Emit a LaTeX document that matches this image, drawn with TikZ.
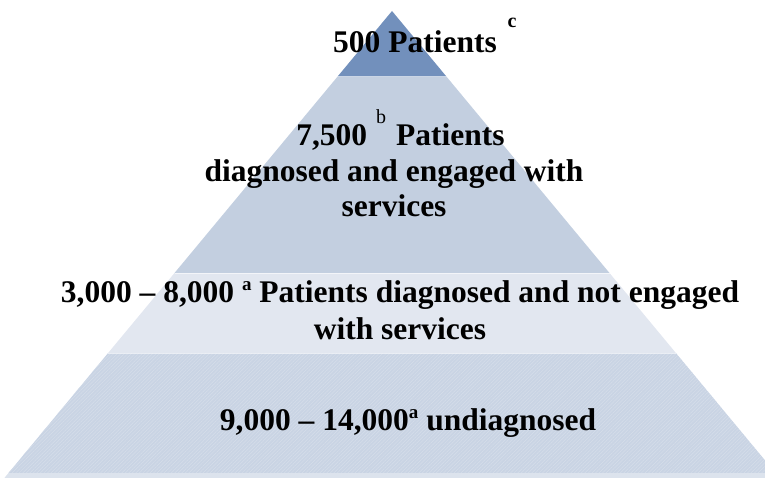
\documentclass[tikz,border=0pt]{standalone}
\usepackage{fontspec}
\setmainfont{Liberation Serif}[BoldFont={Liberation Serif Bold},ItalicFont={Liberation Serif Italic}]
\usetikzlibrary{patterns.meta}
\definecolor{topc}{HTML}{7290BC}
\definecolor{bandtwo}{HTML}{C3CFE0}
\definecolor{bandthree}{HTML}{E2E7F0}
\definecolor{bandfour}{HTML}{C9D4E4}
\definecolor{hatchc}{HTML}{D6DEEA}
\definecolor{stripc}{HTML}{DCE3ED}
\newcommand{\supa}[1]{\raisebox{12pt}{\fontsize{19}{19}\selectfont\bfseries #1}}
\tikzset{
  lbl/.style={font=\fontsize{31.5}{36}\selectfont\bfseries, inner sep=0, anchor=base},
  sepline/.style={draw=white, draw opacity=0.6, line width=1pt}
}
\begin{document}
\begin{tikzpicture}[x=1pt,y=-1pt]
\useasboundingbox (0,0) rectangle (765,478);
\begin{scope}
\clip (0,0) rectangle (765,478);
% top triangle
\path[fill=topc] (392,11) -- (337.2,77) -- (446.8,77) -- cycle;
% band 2
\path[fill=bandtwo] (337.2,77) -- (446.8,77) -- (609.5,273) -- (174.5,273) -- cycle;
% band 3
\path[fill=bandthree] (174.5,273) -- (609.5,273) -- (675.9,353) -- (108.1,353) -- cycle;
% band 4
\path[fill=bandfour] (108.1,353) -- (675.9,353) -- (775.5,473) -- (8.5,473) -- cycle;
\path[pattern={Lines[angle=45,distance=2.5pt,line width=0.5pt]}, pattern color=hatchc]
  (108.1,353) -- (675.9,353) -- (775.5,473) -- (8.5,473) -- cycle;
% bottom strip
\path[fill=stripc] (8.5,473) -- (775.5,473) -- (779.6,478) -- (4.4,478) -- cycle;
% separators
\draw[sepline] (337.2,77) -- (446.8,77);
\draw[sepline] (174.5,273) -- (609.5,273);
\draw[sepline] (108.1,353) -- (675.9,353);
\end{scope}
% labels
\node[lbl] (t1) at (415,53) {500 Patients};
\node[inner sep=0, anchor=base, font=\fontsize{20}{20}\selectfont\bfseries] (t1c) at (512,28) {c};
\node[lbl] (t2a) at (400.5,146) {7,500\hspace{9pt}\raisebox{22pt}{\fontsize{20}{20}\selectfont\mdseries b}\hspace{10pt}Patients};
\node[lbl] (t2b) at (394,182) {diagnosed and engaged with};
\node[lbl] (t2c) at (394,217) {services};
\node[lbl] (t3a) at (400,302) {3,000 -- 8,000 \supa{a} Patients diagnosed and not engaged};
\node[lbl] (t3b) at (400,339) {with services};
\node[lbl] (t4) at (408,430) {9,000 -- 14,000\supa{a} undiagnosed};
\end{tikzpicture}
\end{document}
